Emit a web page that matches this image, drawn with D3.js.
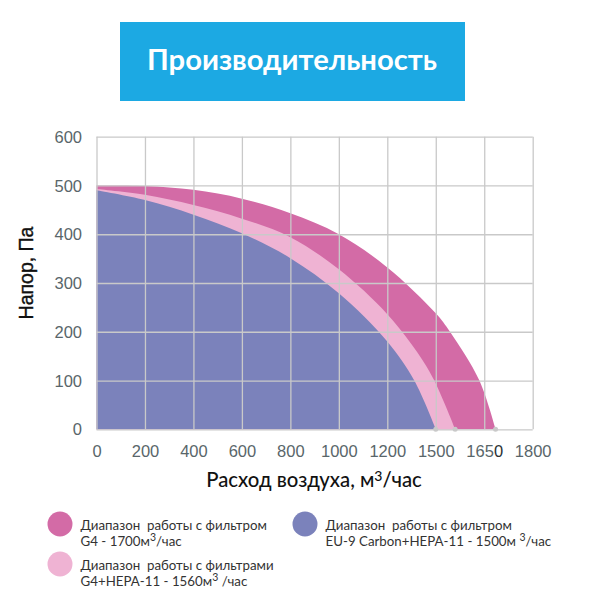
<!DOCTYPE html>
<html>
<head>
<meta charset="utf-8">
<script src="https://cdn.jsdelivr.net/npm/d3@7"></script>
<style>
  html, body { margin: 0; padding: 0; background: #fff; }
  svg { display: block; }
  text { white-space: pre; }
  .tick text { font-family: "Liberation Sans", Arial, sans-serif; font-size: 16.5px; fill: #59666a; }
  .tick line { stroke: #c9c9c9; stroke-width: 1.3; }
  .lato { font-family: Lato, "Open Sans", sans-serif; }
</style>
</head>
<body>
<svg id="chart" width="593" height="595"></svg>
<script>
// the x axis of the original is not linear: ticks are evenly spaced but jump 1200 -> 1500 -> 1650
const xTicks = [0, 200, 400, 600, 800, 1000, 1200, 1500, 1650, 1800];
const yTicks = [0, 100, 200, 300, 400, 500, 600];

// [flow, pressure]
const curveG4 = [[0, 500], [200, 499], [400, 491], [600, 473], [800, 443], [1000, 400], [1200, 332],
    [1500, 238], [1544, 200], [1635, 100], [1685, 0]];
const curveHepa = [[0, 493], [200, 481], [400, 460], [600, 432], [800, 394], [1000, 328], [1200, 236],
    [1404, 149], [1491, 100], [1560, 0]];
const curveCarbon = [[0, 490], [200, 470], [400, 440], [600, 402], [800, 351], [1000, 279],
    [1200, 180], [1367, 100], [1500, 0]];

const legendItems = [
    { color: '#d36ba6', x: 60, y: 524, lines: [['Диапазон  работы с фильтром'], ['G4 - 1700м', '3', '/час']] },
    { color: '#efb3d3', x: 60, y: 564, lines: [['Диапазон  работы с фильтрами'], ['G4+HEPA-11 - 1560м', '3', ' /час']] },
    { color: '#7b82bb', x: 305, y: 524, lines: [['Диапазон  работы с фильтром'], ['EU-9 Carbon+HEPA-11 - 1500м ', '3', '/час']] }
];

const svg = d3.select('#chart');

// Title box
svg.append('rect')
    .attr('x', 120).attr('y', 22).attr('width', 345).attr('height', 79)
    .attr('fill', '#1ca9e3');
svg.append('text')
    .attr('class', 'lato')
    .attr('x', 292).attr('y', 70)
    .attr('text-anchor', 'middle')
    .attr('font-size', 29.2)
    .attr('font-weight', 700)
    .attr('fill', '#fff')
    .text('Производительность');

const plotLeft = 96.5, plotRight = 532.7, plotTop = 136.7, plotBottom = 429.3;

const x = d3.scaleLinear()
    .domain(xTicks)
    .range(xTicks.map((d, i) => plotLeft + i * (plotRight - plotLeft) / (xTicks.length - 1)));
const y = d3.scaleLinear().domain([0, 600]).range([plotBottom, plotTop]);

// Filled regions, biggest first
const area = d3.area()
    .x(d => x(d[0]))
    .y0(plotBottom)
    .y1(d => y(d[1]))
    .curve(d3.curveCatmullRom.alpha(0.5));

[[curveG4, '#d36ba6'], [curveHepa, '#efb3d3'], [curveCarbon, '#7b82bb']].forEach(([pts, color]) => {
    svg.append('path').attr('d', area(pts)).attr('fill', color);
});

// Grid goes over the fills
svg.append('g')
    .attr('transform', `translate(0,${plotBottom})`)
    .call(d3.axisBottom(x).tickValues(xTicks).tickFormat(d3.format('d')).tickSize(plotTop - plotBottom).tickPadding(0))
    .call(g => g.select('.domain').remove())
    .call(g => g.selectAll('text').attr('dy', 0).attr('y', 27.5));

// the last digit of 1650 is darker in the original
const lastTick = svg.selectAll('.tick text').filter(d => d === 1650);
lastTick.text('165').append('tspan').style('fill', '#2b3235').text('0');

svg.append('g')
    .attr('transform', `translate(${plotLeft},0)`)
    .call(d3.axisLeft(y).tickValues(yTicks).tickSize(plotLeft - plotRight).tickPadding(0))
    .call(g => g.select('.domain').remove())
    .call(g => g.selectAll('text').attr('x', -14.5).attr('dy', '0.34em'));

// Small dots where the curves reach the axis
svg.selectAll('.end-dot')
    .data([curveCarbon, curveHepa, curveG4].map(c => c[c.length - 1]))
    .enter()
    .append('circle')
    .attr('class', 'end-dot')
    .attr('cx', d => x(d[0]))
    .attr('cy', d => y(d[1]))
    .attr('r', 2.5)
    .attr('fill', '#c9c9c9');

// Axis titles
svg.append('text')
    .attr('transform', 'translate(33,273) rotate(-90)')
    .attr('text-anchor', 'middle')
    .attr('font-family', '"Liberation Sans", Arial, sans-serif')
    .attr('font-size', 19.5)
    .attr('stroke', '#111')
    .attr('stroke-width', 0.4)
    .attr('fill', '#111')
    .text('Напор, Па');

const xTitle = svg.append('text')
    .attr('class', 'lato')
    .attr('x', 314).attr('y', 487)
    .attr('text-anchor', 'middle')
    .attr('font-size', 20.3)
    .attr('font-weight', 500)
    .attr('fill', '#111');
xTitle.append('tspan').text('Расход воздуха, м');
xTitle.append('tspan').attr('dy', -6).attr('font-size', 14).text('3');
xTitle.append('tspan').attr('dy', 6).text('/час');

// Legend
legendItems.forEach(item => {
    svg.append('circle')
        .attr('cx', item.x).attr('cy', item.y).attr('r', 12.5)
        .attr('fill', item.color);
    item.lines.forEach((parts, i) => {
        const t = svg.append('text')
            .attr('class', 'lato')
            .attr('x', item.x + 20.5)
            .attr('y', item.y + 6 + i * 16)
            .attr('font-size', 13.3)
            .attr('fill', '#333');
        t.append('tspan').text(parts[0]);
        if (parts.length > 1) {
            t.append('tspan').attr('dy', -5).attr('font-size', 10.5).text(parts[1]);
            t.append('tspan').attr('dy', 5).text(parts[2]);
        }
    });
});
</script>
</body>
</html>
